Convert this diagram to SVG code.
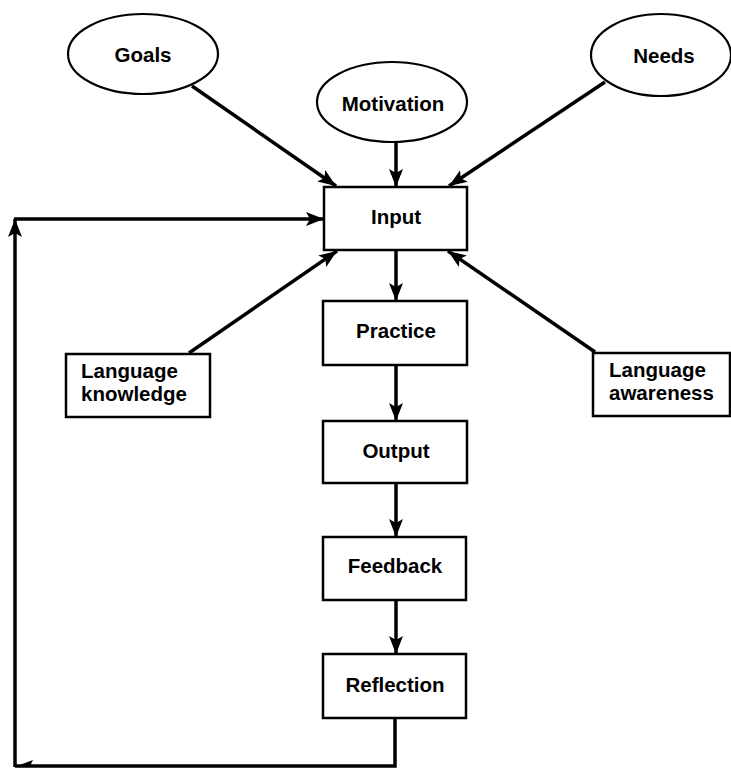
<svg xmlns="http://www.w3.org/2000/svg" width="731" height="768" viewBox="0 0 731 768">
<style>
.box{fill:#fff;stroke:#000;stroke-width:2.5}
.ell{fill:#fff;stroke:#000;stroke-width:2.2}
.lbl{font-family:"Liberation Sans",Arial,sans-serif;font-weight:bold;font-size:20.5px;fill:#000}
.c{text-anchor:middle}
.ln{fill:none;stroke:#000;stroke-width:3.5}
</style>
<defs>
<marker id="ah" markerUnits="userSpaceOnUse" markerWidth="20" markerHeight="14" refX="18" refY="7" orient="auto">
<path d="M0,0 L18,7 L0,14 L4,7 z" fill="#000"/>
</marker>
</defs>
<rect width="731" height="768" fill="#fff"/>
<g id="connectors">
<line class="ln" x1="192" y1="86" x2="336" y2="186" marker-end="url(#ah)"/>
<line class="ln" x1="396" y1="142" x2="396" y2="187" marker-end="url(#ah)"/>
<line class="ln" x1="605" y1="82" x2="449" y2="186" marker-end="url(#ah)"/>
<line class="ln" x1="189" y1="353" x2="337" y2="251" marker-end="url(#ah)"/>
<line class="ln" x1="595" y1="352" x2="448" y2="251" marker-end="url(#ah)"/>
<line class="ln" x1="396" y1="250" x2="396" y2="301" marker-end="url(#ah)"/>
<line class="ln" x1="396" y1="365" x2="396" y2="421" marker-end="url(#ah)"/>
<line class="ln" x1="396" y1="483" x2="396" y2="537" marker-end="url(#ah)"/>
<line class="ln" x1="396" y1="600" x2="396" y2="654" marker-end="url(#ah)"/>
<polyline class="ln" points="395,718 395,766 15,766"/>
<path d="M17,766 L33,760 L30,766 z" fill="#000"/>
<line class="ln" x1="15" y1="767" x2="15" y2="219" marker-end="url(#ah)"/>
<line class="ln" x1="14" y1="219" x2="324" y2="219" marker-end="url(#ah)"/>
</g>
<g id="goals"><ellipse class="ell" cx="143" cy="54" rx="75" ry="40"/><text class="lbl c" x="143" y="62">Goals</text></g>
<g id="motivation"><ellipse class="ell" cx="392" cy="102" rx="75" ry="40"/><text class="lbl c" x="393" y="111">Motivation</text></g>
<g id="needs"><ellipse class="ell" cx="661" cy="55" rx="70" ry="41"/><text class="lbl c" x="664" y="63">Needs</text></g>
<g id="input"><rect class="box" x="324" y="187" width="143" height="63"/><text class="lbl c" x="396" y="224">Input</text></g>
<g id="practice"><rect class="box" x="323" y="301" width="144" height="64"/><text class="lbl c" x="396" y="338">Practice</text></g>
<g id="output"><rect class="box" x="323" y="421" width="144" height="62"/><text class="lbl c" x="396" y="458">Output</text></g>
<g id="feedback"><rect class="box" x="323" y="537" width="143" height="63"/><text class="lbl c" x="395" y="573">Feedback</text></g>
<g id="reflection"><rect class="box" x="323" y="654" width="143" height="64"/><text class="lbl c" x="395" y="692">Reflection</text></g>
<g id="language-knowledge"><rect class="box" x="66" y="354" width="144" height="63"/><text class="lbl" x="81" y="378">Language</text><text class="lbl" x="81" y="401">knowledge</text></g>
<g id="language-awareness"><rect class="box" x="593" y="353" width="137" height="63"/><text class="lbl" x="609" y="377">Language</text><text class="lbl" x="609" y="400">awareness</text></g>
</svg>
